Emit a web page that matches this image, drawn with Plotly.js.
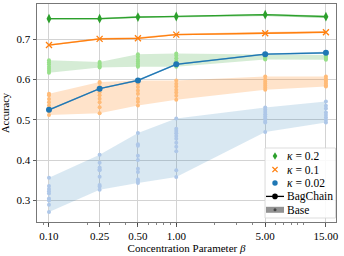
<!DOCTYPE html>
<html>
<head>
<meta charset="utf-8">
<script src="https://cdn.plot.ly/plotly-3.0.1.min.js"></script>
<style>html,body{margin:0;padding:0;background:#fff;}#chart{width:344px;height:256px;}</style>
</head>
<body>
<div id="chart"></div>
<script>
// Concentration parameter values (x, log axis)
const betas = [0.1, 0.25, 0.5, 1, 5, 15];
const tickLabels = ['0.10', '0.25', '0.50', '1.00', '5.00', '15.00'];
const yTicks = [0.3, 0.4, 0.5, 0.6, 0.7];
const legendLabels = ['<i>κ</i> = 0.2', '<i>κ</i> = 0.1', '<i>κ</i> = 0.02', 'BagChain', 'Base'];

// BagChain mean accuracy
const bagK02 = [0.751, 0.751, 0.755, 0.7565, 0.761, 0.756];
const bagK01 = [0.6857, 0.701, 0.7025, 0.7115, 0.715, 0.7175];
const bagK002 = [0.525, 0.5775, 0.598, 0.638, 0.663, 0.6665];

// BagChain min / max (narrow bands)
const bagK02Lo = [0.749, 0.749, 0.753, 0.754, 0.758, 0.753];
const bagK02Hi = [0.753, 0.753, 0.758, 0.758, 0.763, 0.759];
const bagK01Lo = [0.684, 0.699, 0.701, 0.710, 0.713, 0.716];
const bagK01Hi = [0.688, 0.703, 0.705, 0.714, 0.718, 0.720];
const bagK002Lo = [0.523, 0.576, 0.596, 0.636, 0.661, 0.664];
const bagK002Hi = [0.527, 0.579, 0.600, 0.640, 0.665, 0.669];

// Base run accuracies for each beta
const baseK02 = [
  [0.648, 0.643, 0.638, 0.632, 0.627, 0.622, 0.617],
  [0.644, 0.640, 0.636, 0.633, 0.630],
  [0.663, 0.657, 0.650, 0.645, 0.640, 0.635, 0.632],
  [0.665, 0.660, 0.653, 0.646, 0.640, 0.635, 0.632],
  [0.6625, 0.660, 0.657, 0.655, 0.652, 0.650],
  [0.661, 0.658, 0.655, 0.652, 0.649]
];
const baseK01 = [
  [0.565, 0.561, 0.552, 0.544, 0.536, 0.5275, 0.5215, 0.512],
  [0.594, 0.5915, 0.5815, 0.569, 0.561, 0.5525, 0.544, 0.5315, 0.5165],
  [0.598, 0.590, 0.5815, 0.573, 0.565, 0.5525, 0.545, 0.536],
  [0.598, 0.590, 0.583, 0.575, 0.568, 0.560, 0.550],
  [0.608, 0.600, 0.595, 0.590, 0.585, 0.580, 0.575],
  [0.608, 0.602, 0.598, 0.594, 0.590, 0.586, 0.583]
];
const baseK002 = [
  [0.357, 0.336, 0.329, 0.3235, 0.3175, 0.305, 0.300, 0.290, 0.272],
  [0.4135, 0.394, 0.382, 0.3775, 0.375, 0.359, 0.3385, 0.335, 0.327],
  [0.4675, 0.440, 0.436, 0.411, 0.401, 0.379, 0.371, 0.3525, 0.3485, 0.344],
  [0.5035, 0.4785, 0.4725, 0.467, 0.460, 0.4535, 0.4435, 0.4335, 0.4225, 0.375, 0.3585],
  [0.531, 0.525, 0.520, 0.514, 0.5085, 0.5035, 0.4975, 0.4935, 0.470],
  [0.546, 0.535, 0.5285, 0.5185, 0.512, 0.506, 0.500, 0.4935]
];

const series = [
  {bag: bagK02, lo: bagK02Lo, hi: bagK02Hi, base: baseK02,
   color: '#2ca02c', band: 'rgba(44,160,44,0.2)', bagBand: 'rgba(44,160,44,0.45)', pt: '#98df8a', symbol: 'diamond-tall', size: 7},
  {bag: bagK01, lo: bagK01Lo, hi: bagK01Hi, base: baseK01,
   color: '#ff7f0e', band: 'rgba(255,127,14,0.22)', bagBand: 'rgba(255,127,14,0.45)', pt: '#ffbb78', symbol: 'x-thin', size: 6},
  {bag: bagK002, lo: bagK002Lo, hi: bagK002Hi, base: baseK002,
   color: '#1f77b4', band: 'rgba(31,119,180,0.17)', bagBand: 'rgba(31,119,180,0.45)', pt: '#aec7e8', symbol: 'circle', size: 6}
];

const traces = [];
series.forEach(s => {
  const lo = s.base.map(a => Math.min(...a));
  const hi = s.base.map(a => Math.max(...a));
  traces.push({x: betas, y: lo, mode: 'lines', line: {width: 0}, showlegend: false, hoverinfo: 'skip'});
  traces.push({x: betas, y: hi, mode: 'lines', line: {width: 0}, fill: 'tonexty', fillcolor: s.band, showlegend: false, hoverinfo: 'skip'});
  const px = [], py = [];
  s.base.forEach((arr, i) => arr.forEach(v => { px.push(betas[i]); py.push(v); }));
  traces.push({x: px, y: py, mode: 'markers', marker: {color: s.pt, size: 4}, showlegend: false});
});
series.forEach(s => {
  traces.push({x: betas, y: s.lo, mode: 'lines', line: {width: 0}, showlegend: false, hoverinfo: 'skip'});
  traces.push({x: betas, y: s.hi, mode: 'lines', line: {width: 0}, fill: 'tonexty', fillcolor: s.bagBand, showlegend: false, hoverinfo: 'skip'});
  traces.push({x: betas, y: s.bag, mode: 'lines+markers', line: {color: s.color, width: 1.3},
    marker: {color: s.color, symbol: s.symbol, size: s.size, line: {color: s.color, width: s.symbol === 'x-thin' ? 1.3 : 0}}, showlegend: false});
});

// ----- legend (drawn as layout decorations) -----
const M = {l: 37, r: 8, t: 4, b: 34};
const PW = 344 - M.l - M.r, PH = 256 - M.t - M.b;
const fx = x => (x - M.l) / PW;          // pixel -> paper x
const fy = y => (256 - M.b - y) / PH;    // pixel -> paper y
const legRows = [156, 169.6, 183, 196.4, 209.8];
const symX = 275, txtX = 284.5;
const shapes = [];
const P = {xref: 'paper', yref: 'paper', layer: 'above'};
shapes.push(Object.assign({type: 'rect', x0: fx(265), x1: fx(335.5), y0: fy(218), y1: fy(148),
  fillcolor: 'rgba(255,255,255,0.88)', line: {color: '#d4d4d4', width: 0.8}}, P));
(function () {
  const c = legRows[0], w = 2.3, h = 3.8;
  shapes.push(Object.assign({type: 'path',
    path: `M ${fx(symX)} ${fy(c - h)} L ${fx(symX + w)} ${fy(c)} L ${fx(symX)} ${fy(c + h)} L ${fx(symX - w)} ${fy(c)} Z`,
    fillcolor: series[0].color, line: {width: 0}}, P));
})();
(function () {
  const c = legRows[1], d = 2.6;
  shapes.push(Object.assign({type: 'line', x0: fx(symX - d), x1: fx(symX + d), y0: fy(c - d), y1: fy(c + d), line: {color: series[1].color, width: 1.2}}, P));
  shapes.push(Object.assign({type: 'line', x0: fx(symX - d), x1: fx(symX + d), y0: fy(c + d), y1: fy(c - d), line: {color: series[1].color, width: 1.2}}, P));
})();
(function () {
  const c = legRows[2], r = 2.7;
  shapes.push(Object.assign({type: 'circle', x0: fx(symX - r), x1: fx(symX + r), y0: fy(c + r), y1: fy(c - r), fillcolor: series[2].color, line: {width: 0}}, P));
})();
(function () {
  const c = legRows[3], r = 2.8;
  shapes.push(Object.assign({type: 'line', x0: fx(266), x1: fx(284), y0: fy(c), y1: fy(c), line: {color: '#000', width: 1.3}}, P));
  shapes.push(Object.assign({type: 'circle', x0: fx(symX - r), x1: fx(symX + r), y0: fy(c + r), y1: fy(c - r), fillcolor: '#000', line: {width: 0}}, P));
})();
(function () {
  const c = legRows[4], r = 1.5;
  shapes.push(Object.assign({type: 'rect', x0: fx(266), x1: fx(284), y0: fy(c + 3), y1: fy(c - 3), fillcolor: 'rgba(110,110,110,0.75)', line: {width: 0}}, P));
  shapes.push(Object.assign({type: 'circle', x0: fx(symX - r), x1: fx(symX + r), y0: fy(c + r), y1: fy(c - r), fillcolor: '#444', line: {width: 0}}, P));
})();

const fam = '"Liberation Serif", "DejaVu Serif", serif';
const annotations = legendLabels.map((t, i) => ({
  text: t, xref: 'paper', yref: 'paper', x: fx(txtX), y: fy(legRows[i]),
  xanchor: 'left', yanchor: 'middle', showarrow: false,
  font: {family: fam, size: 11.5, color: '#000'}
}));

const layout = {
  width: 344, height: 256,
  margin: M,
  paper_bgcolor: '#fff', plot_bgcolor: '#fff',
  font: {family: fam, size: 10, color: '#000'},
  showlegend: false,
  xaxis: {
    type: 'log', range: [Math.log10(0.0805), Math.log10(18)],
    tickvals: betas, ticktext: tickLabels,
    ticks: 'outside', ticklen: 3.5, tickcolor: '#333', tickwidth: 0.8,
    showgrid: true, gridcolor: '#d3d3d3', gridwidth: 1,
    showline: true, linecolor: '#777', linewidth: 1, mirror: true,
    zeroline: false,
    minor: {ticks: 'outside', ticklen: 2, tickcolor: '#333', tickwidth: 0.6, showgrid: false, dtick: 'D1'},
    title: {text: 'Concentration Parameter <i>β</i>', font: {family: fam, size: 11}, standoff: 3},
    tickfont: {family: fam, size: 11}
  },
  yaxis: {
    range: [0.247, 0.7875],
    tickvals: yTicks, ticktext: yTicks.map(v => v.toFixed(1)),
    ticks: 'outside', ticklen: 3.5, tickcolor: '#333', tickwidth: 0.8,
    showgrid: true, gridcolor: '#d3d3d3', gridwidth: 1,
    showline: true, linecolor: '#777', linewidth: 1, mirror: true,
    zeroline: false,
    title: {text: 'Accuracy', font: {family: fam, size: 10.5}, standoff: 4},
    tickfont: {family: fam, size: 11}
  },
  shapes: shapes,
  annotations: annotations
};

Plotly.newPlot('chart', traces, layout, {displayModeBar: false, staticPlot: true});
</script>
</body>
</html>
